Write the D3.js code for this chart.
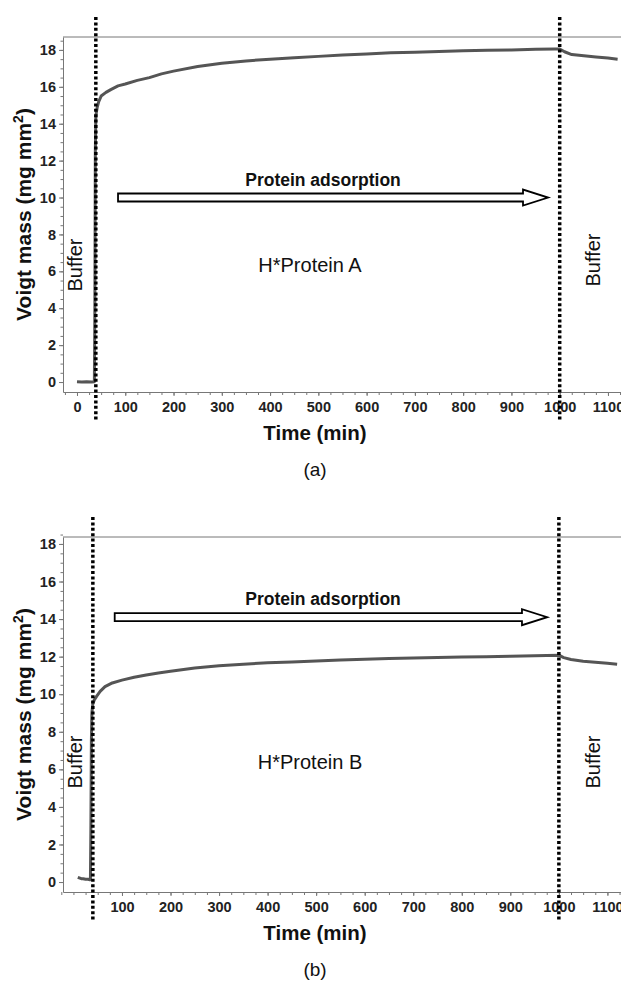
<!DOCTYPE html>
<html>
<head>
<meta charset="utf-8">
<script src="https://cdnjs.cloudflare.com/ajax/libs/d3/7.8.5/d3.min.js"></script>
<style>
  html, body { margin: 0; padding: 0; background: #fff; }
  svg text { font-family: "Liberation Sans", Arial, sans-serif; }
</style>
</head>
<body>
<div id="chart"></div>
<script>
const timeA = [0, 10, 20, 30, 36, 37, 38, 39, 40, 42, 45, 50, 60, 70, 85, 100, 125, 150, 175, 200, 250, 300, 350, 400, 450, 500, 550, 600, 650, 700, 750, 800, 850, 900, 950, 990, 1000, 1010, 1025, 1050, 1075, 1100, 1120];
const massA = [0.02, 0.0, 0.02, 0.0, 0.02, 4.0, 12.5, 14.3, 14.6, 14.9, 15.2, 15.5, 15.7, 15.85, 16.05, 16.15, 16.35, 16.5, 16.7, 16.85, 17.1, 17.28, 17.4, 17.5, 17.58, 17.65, 17.72, 17.78, 17.84, 17.88, 17.92, 17.95, 17.98, 18.0, 18.03, 18.05, 18.05, 17.9, 17.75, 17.68, 17.62, 17.56, 17.5];

const timeB = [9, 12, 16, 20, 25, 30, 34, 35, 36, 37, 38, 40, 43, 48, 55, 65, 80, 100, 125, 150, 175, 200, 250, 300, 350, 400, 450, 500, 550, 600, 650, 700, 750, 800, 850, 900, 950, 1000, 1010, 1025, 1050, 1075, 1100, 1120];
const massB = [0.25, 0.22, 0.18, 0.18, 0.15, 0.15, 0.12, 0.15, 3.0, 7.5, 9.0, 9.5, 9.7, 9.9, 10.15, 10.4, 10.6, 10.75, 10.9, 11.02, 11.13, 11.22, 11.4, 11.52, 11.6, 11.67, 11.72, 11.77, 11.82, 11.86, 11.9, 11.93, 11.96, 11.98, 12.0, 12.02, 12.05, 12.08, 11.95, 11.85, 11.75, 11.7, 11.65, 11.6];

const xTicksA = [0, 100, 200, 300, 400, 500, 600, 700, 800, 900, 1000, 1100];
const xTicksB = [100, 200, 300, 400, 500, 600, 700, 800, 900, 1000, 1100];
const yTicks = [0, 2, 4, 6, 8, 10, 12, 14, 16, 18];

// buffer -> protein -> buffer switch times (min)
const switchA = [39, 1000];
const switchB = [40, 1000];
// adsorption arrow: [start, head base, tip] in min, and the level it sits at
const arrowTimes = [85, 924, 976];
const arrowLevelA = 10.0;
const arrowLevelB = 14.1;

const W = 621, H = 981;

const svg = d3.select("#chart")
  .append("svg")
  .attr("width", W)
  .attr("height", H);

svg.append("rect").attr("width", W).attr("height", H).attr("fill", "#fff");

function drawPanel(p) {
  const x = d3.scaleLinear().domain(p.xDomain).range([63, W]);
  const y = d3.scaleLinear().domain(p.yDomain).range([p.bottom, p.top]);
  const g = svg.append("g");

  // frame top line
  g.append("line")
    .attr("x1", 63).attr("x2", W)
    .attr("y1", p.top).attr("y2", p.top)
    .attr("stroke", "#777").attr("stroke-width", 1);

  // minor ticks
  g.append("g")
    .attr("transform", `translate(0,${p.bottom})`)
    .call(d3.axisBottom(x).tickValues(d3.range(-25, 1150, 25)).tickSize(3).tickFormat(""))
    .call(a => a.select(".domain").remove())
    .call(a => a.selectAll("line").attr("stroke", "#777"));
  g.append("g")
    .attr("transform", "translate(63,0)")
    .call(d3.axisLeft(y).tickValues(d3.range(0, 18.6, 0.5)).tickSize(2.5).tickFormat(""))
    .call(a => a.select(".domain").remove())
    .call(a => a.selectAll("line").attr("stroke", "#777"));

  // major axes
  const xa = g.append("g")
    .attr("transform", `translate(0,${p.bottom})`)
    .call(d3.axisBottom(x).tickValues(p.xTicks).tickFormat(d3.format("d"))
      .tickSize(4).tickSizeOuter(0).tickPadding(6));
  const ya = g.append("g")
    .attr("transform", "translate(63,0)")
    .call(d3.axisLeft(y).tickValues(yTicks).tickFormat(d3.format("d"))
      .tickSize(4).tickSizeOuter(0).tickPadding(3));
  [xa, ya].forEach(a => {
    a.select(".domain").attr("stroke", "#777");
    a.selectAll(".tick line").attr("stroke", "#777");
    a.selectAll("text")
      .attr("font-size", 14.5).attr("font-weight", "bold").attr("fill", "#222")
      .style("font-family", '"Liberation Sans", Arial, sans-serif');
  });

  // data curve
  const pts = p.time.map((t, i) => [t, p.mass[i]]);
  g.append("path")
    .datum(pts)
    .attr("fill", "none")
    .attr("stroke", "#555")
    .attr("stroke-width", 3)
    .attr("stroke-linejoin", "round")
    .attr("d", d3.line().x(d => x(d[0])).y(d => y(d[1])));

  // dotted switch lines
  g.selectAll(".sw")
    .data(p.switches)
    .join("line")
    .attr("x1", d => x(d)).attr("x2", d => x(d))
    .attr("y1", p.top - 20).attr("y2", p.bottom + 30)
    .attr("stroke", "#000").attr("stroke-width", 3.5)
    .attr("stroke-dasharray", "3,2.4");

  // adsorption arrow
  const ax0 = x(arrowTimes[0]), axb = x(arrowTimes[1]), axt = x(arrowTimes[2]);
  const ay = y(p.arrowLevel);
  const arrow = d3.path();
  arrow.moveTo(ax0, ay - 4);
  arrow.lineTo(axb, ay - 4);
  arrow.lineTo(axb, ay - 8);
  arrow.lineTo(axt, ay);
  arrow.lineTo(axb, ay + 8);
  arrow.lineTo(axb, ay + 4);
  arrow.lineTo(ax0, ay + 4);
  arrow.closePath();
  g.append("path").attr("d", arrow.toString())
    .attr("fill", "#fff").attr("stroke", "#000").attr("stroke-width", 1.8);

  g.append("text")
    .attr("x", 323).attr("y", ay - 12)
    .attr("text-anchor", "middle")
    .attr("font-size", 17.5).attr("font-weight", "bold").attr("fill", "#111")
    .text("Protein adsorption");

  // labels inside plot
  const mid = (p.top + p.bottom) / 2;
  g.append("text")
    .attr("x", 310).attr("y", p.labelY)
    .attr("text-anchor", "middle")
    .attr("font-size", 20).attr("fill", "#111")
    .text(p.label);

  [[82, p.bufferY[0]], [600, p.bufferY[1]]].forEach(b => {
    g.append("text")
      .attr("transform", `translate(${b[0]},${b[1]}) rotate(-90)`)
      .attr("text-anchor", "middle")
      .attr("font-size", 20).attr("fill", "#111")
      .text("Buffer");
  });

  // axis titles
  const yt = g.append("text")
    .attr("transform", `translate(31,${mid}) rotate(-90)`)
    .attr("text-anchor", "middle")
    .attr("font-size", 21).attr("font-weight", "bold").attr("fill", "#111")
    .text("Voigt mass (mg mm");
  yt.append("tspan").attr("font-size", 14).attr("dy", -8).text("2");
  yt.append("tspan").attr("dy", 8).text(")");

  g.append("text")
    .attr("x", 315).attr("y", p.bottom + 48)
    .attr("text-anchor", "middle")
    .attr("font-size", 20.5).attr("font-weight", "bold").attr("fill", "#111")
    .text("Time (min)");

  g.append("text")
    .attr("x", 315).attr("y", p.bottom + 84)
    .attr("text-anchor", "middle")
    .attr("font-size", 19).attr("fill", "#111")
    .text(p.tag);
}

drawPanel({
  time: timeA, mass: massA, xTicks: xTicksA,
  xDomain: [-29, 1127], yDomain: [-0.54, 18.7],
  top: 37, bottom: 392,
  switches: switchA, arrowLevel: arrowLevelA,
  label: "H*Protein A", labelY: 272, bufferY: [265, 260], tag: "(a)"
});

drawPanel({
  time: timeB, mass: massB, xTicks: xTicksB,
  xDomain: [-21.5, 1128], yDomain: [-0.53, 18.37],
  top: 537, bottom: 892,
  switches: switchB, arrowLevel: arrowLevelB,
  label: "H*Protein B", labelY: 769, bufferY: [762, 762], tag: "(b)"
});
</script>
</body>
</html>
